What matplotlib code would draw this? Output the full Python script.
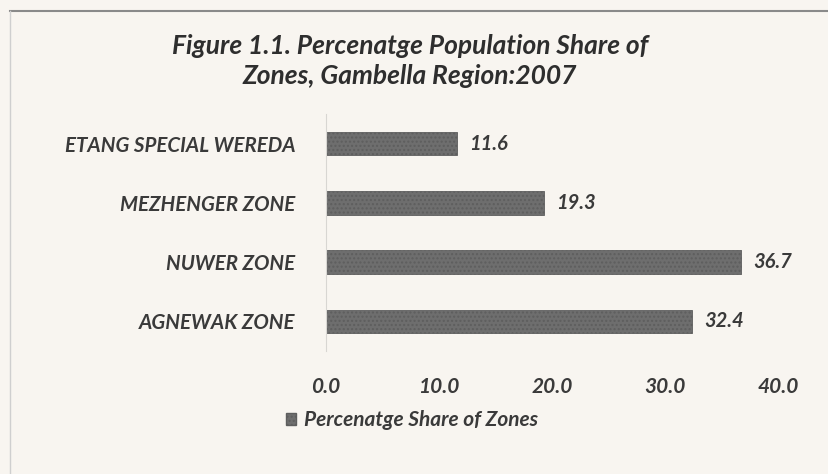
import matplotlib
matplotlib.use("Agg")
import matplotlib.pyplot as plt
from matplotlib.lines import Line2D
from matplotlib.patches import Patch

categories = ["ETANG SPECIAL WEREDA", "MEZHENGER ZONE", "NUWER ZONE", "AGNEWAK ZONE"]
values = [11.6, 19.3, 36.7, 32.4]
xticks = [0, 10, 20, 30, 40]
xtick_labels = ["0.0", "10.0", "20.0", "30.0", "40.0"]
title = "Figure 1.1. Percenatge Population Share of\nZones, Gambella Region:2007"
legend_label = "Percenatge Share of Zones"

plt.rcParams['font.family'] = ['Lato', 'DejaVu Sans']
bg = '#f8f5f0'
txt = '#3a3a3a'
barc = '#6e6e6e'

fig = plt.figure(figsize=(8.29, 4.74), dpi=100, facecolor=bg)
ax = fig.add_axes([326/829, 1-351/474, (778-326)/829, (351-114)/474])
ax.set_facecolor(bg)

pos = list(range(len(categories)))
bars = ax.barh(pos, values, height=0.4, color=barc, edgecolor='#5e5e5e',
               linewidth=0.6, hatch='....', label=legend_label)

ax.set_ylim(3.5, -0.5)
ax.set_xlim(0, 40)
ax.set_yticks(pos)
ax.set_yticklabels(categories, fontsize=14.8, style='italic', weight='bold', color=txt)
ax.set_xticks(xticks)
ax.set_xticklabels(xtick_labels, fontsize=15, style='italic', weight='bold', color=txt)
ax.tick_params(axis='y', length=0, pad=22)
ax.tick_params(axis='x', length=0, pad=19)
for s in ['top', 'right', 'bottom']:
    ax.spines[s].set_visible(False)
ax.spines['left'].set_color('#d8d6d2')
ax.spines['left'].set_linewidth(0.8)

for p, v in zip(pos, values):
    ax.text(v + 1.1, p, f"{v:.1f}", va='center', ha='left', fontsize=14.5,
            style='italic', weight='bold', color=txt)

fig.text(410/829, 1-61/474, title, ha='center', va='center', fontsize=19,
         style='italic', weight='bold', color='#2e2e2e', linespacing=1.25)

leg = fig.legend(handles=[Patch(facecolor=barc, edgecolor='#5e5e5e', hatch='....')],
           labels=[legend_label], loc='center', bbox_to_anchor=(412/829, 1-420/474),
           frameon=False, handlelength=0.5, handleheight=0.5,
           handletextpad=0.4, prop={'style': 'italic', 'size': 15, 'weight': 'bold'})
for t in leg.get_texts():
    t.set_color(txt)

fig.add_artist(Line2D([10/829, 1], [1-11/474, 1-11/474], color='#8a8a8a', lw=1.5))
fig.add_artist(Line2D([10/829, 10/829], [0, 1-11/474], color='#cfcfcf', lw=1.0))

fig.savefig("out.png", dpi=100, facecolor=bg)
